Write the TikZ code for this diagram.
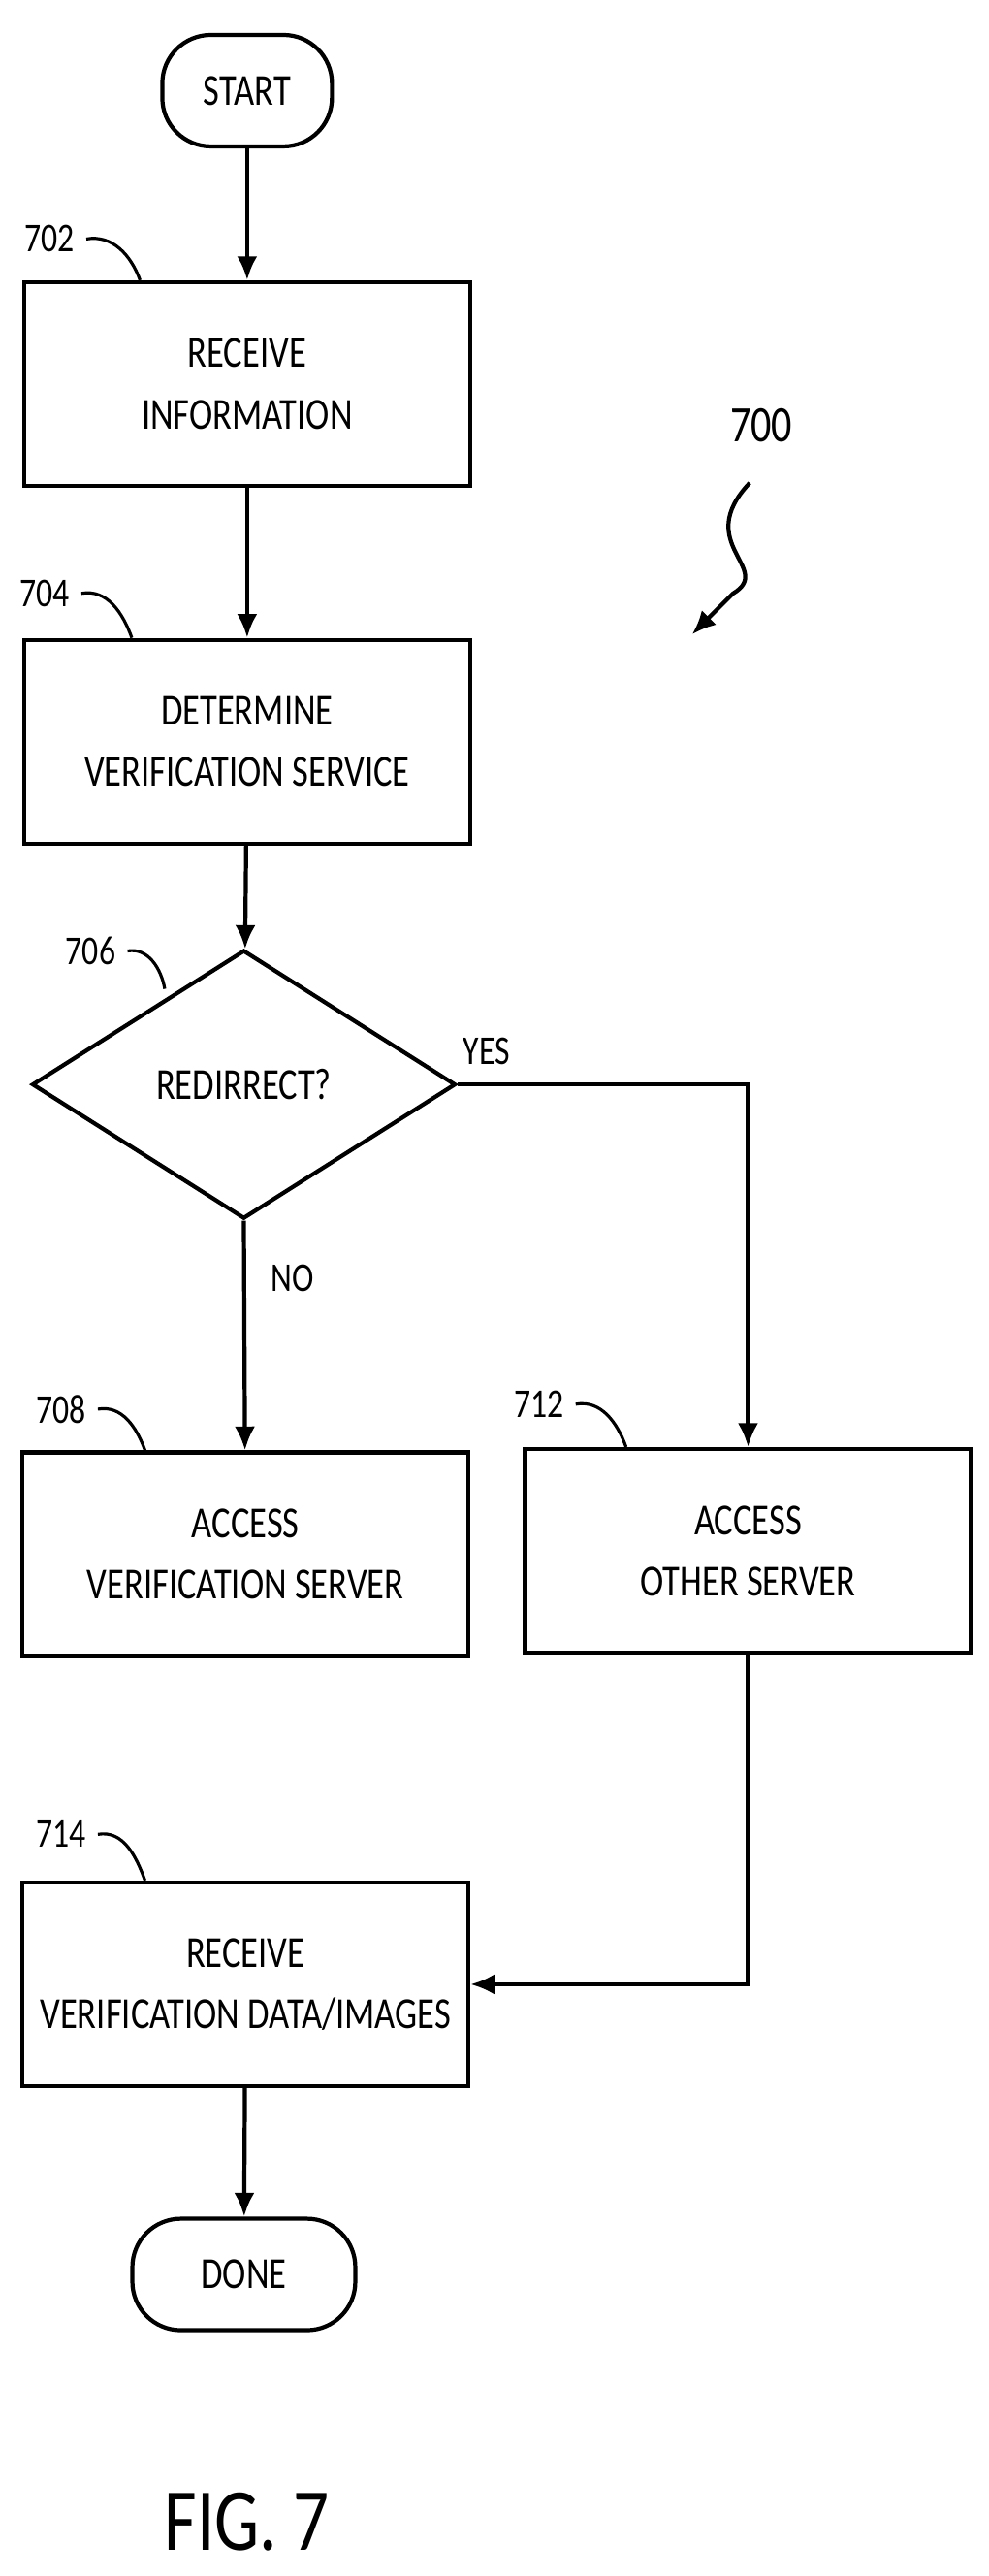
\documentclass[tikz,border=0pt]{standalone}
\usepackage{fontspec}
\setmainfont{Carlito}[FakeStretch=0.8]
\usetikzlibrary{shapes.geometric,arrows.meta}
\tikzset{
  box/.style={draw, line width=1.2pt, minimum width=4.6cm, minimum height=2.1cm, align=center, font=\fontsize{13}{18}\selectfont},
  term/.style={draw, line width=1.2pt, rounded corners=0.5cm, minimum width=1.75cm, minimum height=1.15cm, font=\fontsize{13}{16}\selectfont},
  ref/.style={font=\fontsize{12}{14}\selectfont},
  flow/.style={line width=1.2pt, -{Latex[length=7pt,width=6pt]}},
  tick/.style={line width=0.9pt}
}
\begin{document}
\begin{tikzpicture}[x=0.017cm, y=-0.017cm]
  \useasboundingbox (0,0) rectangle (600,1563);
  % terminals and steps
  \node[term] (start) at (150,55) {START};
  \node[box] (recv) at (150,233) {RECEIVE\\INFORMATION};
  \node[box] (det) at (150,450) {DETERMINE\\VERIFICATION SERVICE};
  \node[draw, line width=1.2pt, diamond, aspect=1.58, minimum width=4.37cm, minimum height=2.77cm,
        font=\fontsize{13}{16}\selectfont] (redir) at (148,658) {REDIRRECT?};
  \node[box] (vsrv) at (149,943) {ACCESS\\VERIFICATION SERVER};
  \node[box] (osrv) at (454,941) {ACCESS\\OTHER SERVER};
  \node[box] (data) at (149,1204) {RECEIVE\\VERIFICATION DATA/IMAGES};
  \node[term, minimum width=2.3cm] (done) at (148,1380) {DONE};
  % connectors
  \draw[flow] (start) -- (recv);
  \draw[flow] (recv) -- (det);
  \draw[flow] (det) -- (redir);
  \draw[flow] (redir.south) -- node[pos=0.25, right=4pt, ref] {NO} (vsrv);
  \draw[flow] (redir.east) -- node[pos=0.1, above=2pt, ref] {YES} (osrv.north |- redir.east) -- (osrv);
  \draw[flow] (osrv) |- (data);
  \draw[flow] (data) -- (done);
  % reference numerals
  \node[ref] (n702) at (30,145) {702};
  \node[ref] (n704) at (27,360) {704};
  \node[ref] (n706) at (55,577) {706};
  \node[ref] (n708) at (37,855) {708};
  \node[ref] (n712) at (327,852) {712};
  \node[ref] (n714) at (37,1113) {714};
  \draw[tick] (n702.east) to[out=10,in=110] (recv.north west -| 85,0);
  \draw[tick] (n704.east) to[out=10,in=110] (det.north west -| 80,0);
  \draw[tick] (n706.east) to[out=10,in=100] (100,600);
  \draw[tick] (n708.east) to[out=10,in=110] (vsrv.north west -| 88,0);
  \draw[tick] (n712.east) to[out=10,in=110] (osrv.north west -| 380,0);
  \draw[tick] (n714.east) to[out=10,in=110] (data.north west -| 88,0);
  \node[font=\fontsize{15}{18}\selectfont] (n700) at (462,258) {700};
  \coordinate (tip700) at (420,385);
  \draw[line width=1.2pt, -{Latex[length=7pt,width=6pt]}] (455,293) .. controls (420,330) and (470,345) .. (445,360) -- (tip700);
  \node[font=\fontsize{26}{30}\selectfont] (fig) at (150,1530) {FIG. 7};
\end{tikzpicture}
\end{document}
